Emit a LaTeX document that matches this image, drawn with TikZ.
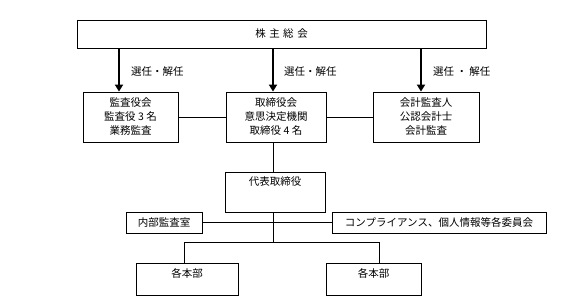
\documentclass[tikz,border=0pt]{standalone}
\usepackage{fontspec}
\setmainfont{Noto Sans CJK JP}
\usetikzlibrary{arrows.meta}
\newcommand{\gp}{\hspace{3.5pt}}
\begin{document}
\begin{tikzpicture}[x=1pt,y=-1pt,
  box/.style={draw, line width=0.8pt, inner sep=0pt, align=center, font=\fontsize{10.5}{14}\selectfont},
  thinline/.style={line width=0.8pt},
  arr/.style={line width=2pt, -{Triangle[width=8pt,length=7pt]}},
  lbl/.style={font=\fontsize{10.5}{14}\selectfont, anchor=west, inner sep=0pt}]
\useasboundingbox (0,0) rectangle (580,304);
\node[box, minimum width=409, minimum height=28] (top) at (281.5,34) {株\gp 主\gp 総\gp 会};
\node[box, minimum width=95, minimum height=50] (kansa) at (130.5,117) {監査役会\\監査役 3 名\\業務監査};
\node[box, minimum width=100, minimum height=50] (tori) at (276,117) {取締役会\\意思決定機関\\取締役 4 名};
\node[box, minimum width=106, minimum height=50] (kaikei) at (426,117) {会計監査人\\公認会計士\\会計監査};
\node[box, minimum width=100, minimum height=40, label={[anchor=north, yshift=-5, inner sep=0pt, font=\fontsize{10.5}{14}\selectfont]north:代表取締役}] (daihyo) at (275,192) {};
\node[box, minimum width=76, minimum height=21] (naibu) at (164,222.5) {内部監査室};
\node[box, minimum width=214, minimum height=21] (comp) at (439,222.5) {コンプライアンス、個人情報等各委員会};
\node[box, minimum width=102, minimum height=32, label={[anchor=north, yshift=-6, inner sep=0pt, font=\fontsize{10.5}{14}\selectfont]north:各本部}] (honbu1) at (187,279) {};
\node[box, minimum width=95, minimum height=32, label={[anchor=north, yshift=-6, inner sep=0pt, font=\fontsize{10.5}{14}\selectfont]north:各本部}] (honbu2) at (373.5,279) {};
% arrows
\draw[arr] (top.south -| 119,0) -- (kansa.north -| 119,0);
\draw[arr] (top.south -| 273,0) -- (tori.north -| 273,0);
\draw[arr] (top.south -| 421,0) -- (kaikei.north -| 421,0);
\node[lbl] (l1) at (131,72) {選任・解任};
\node[lbl] (l2) at (284,72) {選任・解任};
\node[lbl] (l3) at (433,72) {選任 ・ 解任};
% connectors
\draw[thinline] (kansa.east) -- (tori.west);
\draw[thinline] (tori.east) -- (kaikei.west);
\draw[thinline] (tori.south -| 273,0) -- (daihyo.north -| 273,0);
\draw[thinline] (naibu.east) -- (comp.west);
\coordinate (j) at (273,242);
\draw[thinline] (daihyo.south -| j) -- (j);
\draw[thinline] (honbu1.north -| 184,0) -- (184,242) -- (379,242) -- (honbu2.north -| 379,0);
\end{tikzpicture}
\end{document}
